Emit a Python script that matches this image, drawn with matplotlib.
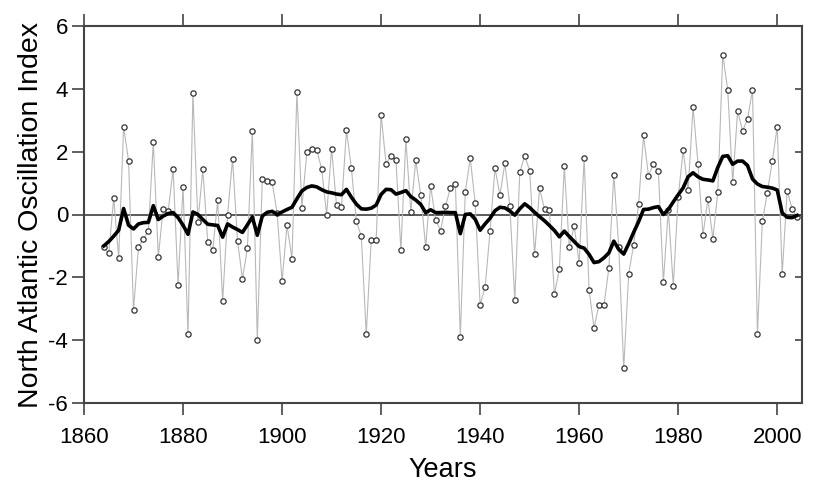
import numpy as np
import matplotlib
matplotlib.use("Agg")
import matplotlib.pyplot as plt

plt.rcParams['font.family'] = ['Liberation Sans', 'DejaVu Sans']
plt.rcParams['axes.unicode_minus'] = False

years = np.arange(1864, 2005)

# yearly NAO index
nao = [-1.03, -1.24, 0.53, -1.38, 2.80, 1.70, -3.03, -1.03, -0.78, -0.52,
       2.31, -1.36, 0.19, 0.10, 1.45, -2.23, 0.89, -3.81, 3.87, -0.24,
       1.44, -0.89, -1.13, 0.45, -2.75, -0.01, 1.77, -0.83, -2.04, -1.08,
       2.67, -3.98, 1.12, 1.08, 1.02, 0.05, -2.13, -0.34, -1.41, 3.89,
       0.22, 1.98, 2.07, 2.06, 1.44, -0.01, 2.10, 0.29, 0.24, 2.68,
       1.48, -0.21, -0.69, -3.81, -0.82, -0.82, 3.18, 1.62, 1.86, 1.72,
       -1.14, 2.40, 0.08, 1.72, 0.63, -1.04, 0.91, -0.16, -0.51, 0.26,
       0.85, 0.97, -3.90, 0.72, 1.79, 0.37, -2.87, -2.32, -0.54, 1.48,
       0.61, 1.64, 0.27, -2.73, 1.34, 1.87, 1.40, -1.27, 0.83, 0.18,
       0.13, -2.54, -1.74, 1.53, -1.03, -0.37, -1.55, 1.80, -2.39, -3.61,
       -2.87, -2.89, -1.70, 1.27, -1.04, -4.90, -1.89, -0.96, 0.33, 2.52,
       1.23, 1.62, 1.37, -2.16, 0.14, -2.26, 0.56, 2.04, 0.78, 3.42,
       1.60, -0.65, 0.50, -0.77, 0.71, 5.09, 3.96, 1.02, 3.29, 2.66,
       3.04, 3.96, -3.79, -0.21, 0.70, 1.70, 2.79, -1.90, 0.75, 0.18,
       -0.09]

# smoothed curve
nao_smooth = [-1.00, -0.86, -0.69, -0.50, 0.19, -0.34, -0.46, -0.30, -0.26, -0.25,
              0.28, -0.16, -0.05, 0.03, 0.06, -0.10, -0.34, -0.63, 0.08, 0.00,
              -0.16, -0.31, -0.33, -0.35, -0.72, -0.30, -0.40, -0.48, -0.57, -0.33,
              -0.08, -0.66, -0.05, 0.07, 0.10, 0.00, 0.08, 0.16, 0.23, 0.50,
              0.75, 0.86, 0.91, 0.88, 0.79, 0.72, 0.69, 0.65, 0.63, 0.80,
              0.55, 0.33, 0.18, 0.17, 0.20, 0.30, 0.64, 0.80, 0.79, 0.65,
              0.70, 0.76, 0.57, 0.46, 0.32, 0.06, 0.15, 0.06, 0.06, 0.07,
              0.06, 0.06, -0.61, 0.00, 0.02, -0.15, -0.50, -0.30, -0.12, 0.12,
              0.23, 0.21, 0.11, -0.02, 0.18, 0.34, 0.22, 0.07, -0.07, -0.20,
              -0.35, -0.51, -0.71, -0.53, -0.70, -0.86, -1.02, -1.07, -1.27, -1.53,
              -1.50, -1.38, -1.22, -0.85, -1.11, -1.26, -0.93, -0.57, -0.23, 0.16,
              0.17, 0.22, 0.25, 0.00, 0.16, 0.40, 0.63, 0.85, 1.20, 1.33,
              1.20, 1.12, 1.10, 1.07, 1.50, 1.85, 1.87, 1.60, 1.70, 1.70,
              1.56, 1.13, 0.97, 0.89, 0.87, 0.84, 0.78, 0.05, -0.09, -0.10,
              -0.03]

fig = plt.figure(figsize=(8.18, 4.92), dpi=100)
ax = fig.add_axes([84/818, 1 - 403/492, 718/818, 377/492])

ax.axhline(0, color='#5a5a5a', lw=1.4, zorder=1)
ax.plot(years, nao, color='#b8b8b8', lw=0.8, marker='o', ms=3.8,
        mfc='white', mec='#333333', mew=0.9, zorder=2)
ax.plot(years, nao_smooth, color='black', lw=2.6, zorder=3)

ax.set_xlim(1860, 2005)
ax.set_ylim(-6, 6)
ax.set_xticks(range(1860, 2001, 20))
ax.set_yticks(range(-6, 7, 2))

for s in ax.spines.values():
    s.set_color('#444444')
    s.set_linewidth(1.5)

ax.tick_params(axis='both', which='both', direction='out', length=8.5, width=1.2,
               color='#444444', labelsize=16)
ax.tick_params(axis='x', top=True, pad=9)
ax.tick_params(axis='y', right=True, pad=3)
for t in ax.yaxis.get_ticklines()[1::2]:
    t.set_marker(0)  # right-side ticks point inward
    t.set_markersize(5)

ax.set_xlabel('Years', fontsize=19.5, labelpad=6)
ax.set_ylabel('North Atlantic Oscillation Index', fontsize=20.5, labelpad=3)

fig.savefig('out.png', dpi=100)
